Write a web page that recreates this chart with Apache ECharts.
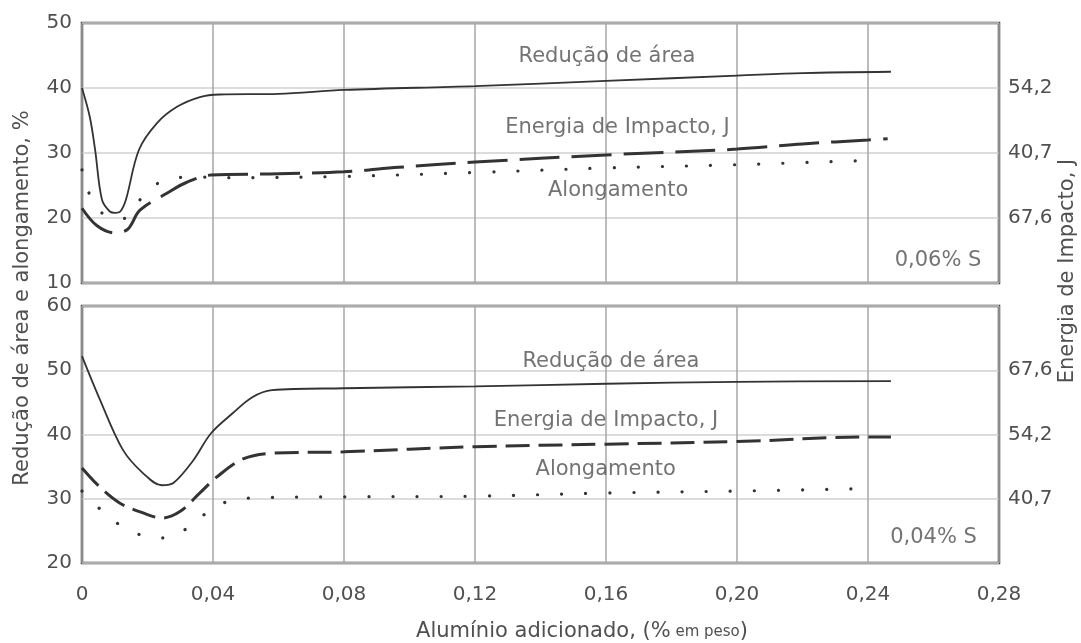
<!DOCTYPE html>
<html>
<head>
<meta charset="utf-8">
<script src="https://cdn.jsdelivr.net/npm/echarts@6/dist/echarts.min.js"></script>
<style>
  html, body { margin: 0; padding: 0; background: #ffffff; }
  #chart { width: 1081px; height: 643px; }
</style>
</head>
<body>
<div id="chart"></div>
<script>
// ---------- DATA ----------
// x = Alumínio adicionado (% em peso)
const xTicks = [0, 0.04, 0.08, 0.12, 0.16, 0.20, 0.24, 0.28];

// Top panel: 0,06% S
const reducaoTop = [[0,40],[0.0024,35.5],[0.004,30.5],[0.0061,22.8],[0.0085,21.0],[0.0101,20.8],[0.0117,21.0],[0.0134,22.8],[0.0174,30.5],[0.0229,34.6],[0.029,37.1],[0.036,38.6],[0.042,39.0],[0.06,39.1],[0.08,39.7],[0.12,40.3],[0.16,41.1],[0.20,41.9],[0.22,42.3],[0.247,42.5]];
const energiaTop = [[0,21.5],[0.0046,18.8],[0.0101,17.7],[0.014,18.3],[0.0177,21.2],[0.0259,23.8],[0.032,25.5],[0.0394,26.6],[0.06,26.8],[0.08,27.1],[0.0967,27.8],[0.12,28.6],[0.16,29.7],[0.20,30.6],[0.22,31.4],[0.24,32.0],[0.246,32.2]];
const alongamentoTop = [[0,27.4],[0.002,24],[0.006,20.8],[0.012,19.8],[0.017,22.4],[0.022,25],[0.029,26.2],[0.036,26.3],[0.044,26.2],[0.08,26.4],[0.12,27.0],[0.16,27.7],[0.20,28.2],[0.242,28.9]];

// Bottom panel: 0,04% S
const reducaoBottom = [[0,52.2],[0.0055,45.4],[0.0125,37.6],[0.0186,34],[0.0244,32.1],[0.028,32.5],[0.034,36],[0.0394,40.2],[0.046,43.3],[0.052,45.8],[0.058,46.9],[0.08,47.2],[0.12,47.5],[0.16,47.9],[0.20,48.2],[0.247,48.3]];
const energiaBottom = [[0,34.8],[0.0055,31.8],[0.0116,29.3],[0.0186,27.8],[0.0244,27.0],[0.0299,28.0],[0.036,30.9],[0.0412,33.4],[0.0492,36.2],[0.0583,37.1],[0.08,37.3],[0.12,38.1],[0.16,38.5],[0.20,38.9],[0.24,39.6],[0.247,39.6]];
const alongamentoBottom = [[0,31.2],[0.0055,28.4],[0.011,26.1],[0.0177,24.4],[0.0247,23.9],[0.0318,25.3],[0.0375,27.6],[0.044,29.5],[0.051,30.1],[0.08,30.3],[0.12,30.4],[0.16,30.9],[0.20,31.2],[0.242,31.6]];

// Right axis (Energia de Impacto, J) labels at left-axis levels
const energyLevelsTop = [20, 30, 40];
const energyLabelsTop = ['67,6', '40,7', '54,2'];
const energyLevelsBottom = [30, 40, 50];
const energyLabelsBottom = ['40,7', '54,2', '67,6'];

// Curve labels [x, y, text]
const notesTop = [[0.1603, 44.8, 'Redução de área'], [0.1635, 33.85, 'Energia de Impacto, J'], [0.1637, 24.3, 'Alongamento'], [0.2614, 13.4, '0,06% S']];
const notesBottom = [[0.1615, 51.3, 'Redução de área'], [0.16, 42.1, 'Energia de Impacto, J'], [0.1599, 34.5, 'Alongamento'], [0.26, 23.9, '0,04% S']];

// ---------- STYLE ----------
const FONT = 'DejaVu Sans';
const TXT = '#505050';
const LINE = '#333333';

const fmtX = v => v === 0 ? '0' : v.toFixed(2).replace('.', ',');

function rightFormatter(levels, labels) {
  return v => {
    const i = levels.findIndex(l => Math.abs(l - v) < 1e-6);
    return i >= 0 ? labels[i] : '';
  };
}

function xAxisDef(gridIndex, showLabels) {
  return {
    type: 'value', gridIndex, min: 0, max: 0.28, interval: 0.04,
    axisLine: { show: false }, axisTick: { show: false },
    axisLabel: { show: showLabels, formatter: fmtX, fontFamily: FONT, fontSize: 20, color: TXT, margin: 22 },
    splitLine: { show: true, lineStyle: { color: '#a6a6a6', width: 1.5 } }
  };
}
function yLeft(gridIndex, min, max) {
  return {
    type: 'value', gridIndex, min, max, interval: 10, position: 'left',
    axisLine: { show: false }, axisTick: { show: false },
    axisLabel: { fontFamily: FONT, fontSize: 20, color: TXT, margin: 10 },
    splitLine: { show: true, lineStyle: { color: '#d0d0d0', width: 1.5 } }
  };
}
function yRight(gridIndex, min, max, levels, labels) {
  return {
    type: 'value', gridIndex, min, max, interval: 10, position: 'right',
    axisLine: { show: false }, axisTick: { show: false },
    axisLabel: { fontFamily: FONT, fontSize: 20, color: TXT, margin: 9, formatter: rightFormatter(levels, labels) },
    splitLine: { show: false }
  };
}
function lineSeries(data, xi, yi, kind) {
  const ls = { color: LINE, cap: 'butt' };
  if (kind === 'solid') { ls.width = 1.8; ls.type = 'solid'; }
  if (kind === 'dashTop') { ls.width = 3; ls.type = [40, 12]; }
  if (kind === 'dashBottom') { ls.width = 3; ls.type = [24, 9]; }
  if (kind === 'dot') { ls.width = 3.2; ls.type = [0.1, 24]; ls.cap = 'round'; }
  return {
    type: 'line', data, xAxisIndex: xi, yAxisIndex: yi, smooth: 0.35,
    symbol: 'none', lineStyle: ls, z: 3, silent: true
  };
}
function noteSeries(data, xi, yi) {
  return {
    type: 'scatter', data, xAxisIndex: xi, yAxisIndex: yi, symbolSize: 1,
    itemStyle: { color: 'transparent' }, silent: true, z: 5,
    label: { show: true, position: 'inside', formatter: p => p.data[2], fontFamily: FONT, fontSize: 21, color: TXT }
  };
}

const chart = echarts.init(document.getElementById('chart'), null, { renderer: 'canvas' });
chart.setOption({
  animation: false,
  backgroundColor: '#ffffff',
  grid: [
    { left: 82, top: 23, width: 917, height: 260, show: true, borderColor: '#3d3d3d', borderWidth: 2.5, backgroundColor: 'transparent' },
    { left: 82, top: 306, width: 917, height: 257, show: true, borderColor: '#3d3d3d', borderWidth: 2.5, backgroundColor: 'transparent' }
  ],
  xAxis: [xAxisDef(0, false), xAxisDef(1, true)],
  yAxis: [
    yLeft(0, 10, 50),
    yRight(0, 10, 50, energyLevelsTop, energyLabelsTop),
    yLeft(1, 20, 60),
    yRight(1, 20, 60, energyLevelsBottom, energyLabelsBottom)
  ],
  series: [
    lineSeries(reducaoTop, 0, 0, 'solid'),
    lineSeries(energiaTop, 0, 0, 'dashTop'),
    lineSeries(alongamentoTop, 0, 0, 'dot'),
    lineSeries(reducaoBottom, 1, 2, 'solid'),
    lineSeries(energiaBottom, 1, 2, 'dashBottom'),
    lineSeries(alongamentoBottom, 1, 2, 'dot'),
    noteSeries(notesTop, 0, 0),
    noteSeries(notesBottom, 1, 2)
  ],
  graphic: [
    {
      type: 'text', x: 582, y: 632,
      style: {
        text: '{a|Alumínio adicionado, (%}{b| em peso}{a|)}',
        align: 'center', verticalAlign: 'middle',
        rich: {
          a: { fontFamily: FONT, fontSize: 21, fill: TXT },
          b: { fontFamily: FONT, fontSize: 15, fill: TXT }
        }
      }
    },
    {
      type: 'text', x: 23, y: 298, rotation: Math.PI / 2,
      style: { text: 'Redução de área e alongamento, %', align: 'center', verticalAlign: 'middle', fontFamily: FONT, fontSize: 21, fill: TXT }
    },
    {
      type: 'text', x: 1068, y: 271, rotation: Math.PI / 2,
      style: { text: 'Energia de Impacto, J', align: 'center', verticalAlign: 'middle', fontFamily: FONT, fontSize: 21, fill: TXT }
    }
  ]
});
</script>
</body>
</html>
